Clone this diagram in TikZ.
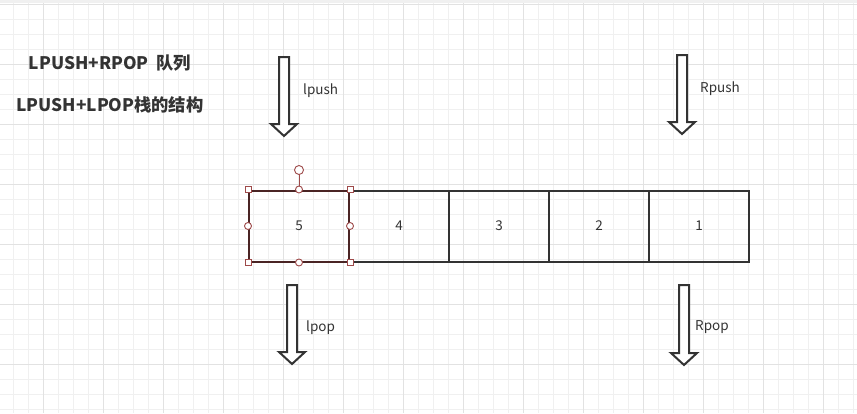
\documentclass[tikz,border=0pt]{standalone}
\usepackage{fontspec}
\setmainfont{Noto Sans CJK SC}
\begin{document}
\begin{tikzpicture}[x=1pt,y=-1pt,
  minorgrid/.style={draw=gridminor,line width=0.9pt},
  majorgrid/.style={draw=gridmajor,line width=0.9pt},
  cell/.style={draw=boxline,line width=2pt,minimum width=100pt,minimum height=71pt,inner sep=0pt,font=\fontsize{13.5}{16}\selectfont,text=txt},
  selcell/.style={cell,draw=selline},
  hsq/.style={draw=handle,fill=white,line width=0.9pt,minimum size=6pt,inner sep=0pt},
  hci/.style={draw=handle,fill=white,line width=0.9pt,circle,minimum size=7pt,inner sep=0pt},
  blockarrow/.style={draw=boxline,fill=white,line width=2pt,line join=miter},
  lbl/.style={font=\fontsize{13.5}{16}\selectfont,text=txt,inner sep=0pt,anchor=west},
  title/.style={font=\fontsize{17.3}{20}\selectfont\bfseries,text=txt,inner sep=0pt}]
\definecolor{gridminor}{HTML}{F0F0F0}
\definecolor{gridmajor}{HTML}{E2E2E2}
\definecolor{boxline}{HTML}{333333}
\definecolor{selline}{HTML}{4A2424}
\definecolor{handle}{HTML}{9E4A4A}
\definecolor{txt}{HTML}{333333}
\useasboundingbox (0,0) rectangle (857,413);
\fill[white] (0,0) rectangle (857,413);
% grid
\foreach \k in {0,...,56} {\draw[minorgrid] (13+15*\k,0) -- (13+15*\k,413);}
\foreach \k in {0,...,27} {\draw[minorgrid] (0,4+15*\k) -- (857,4+15*\k);}
\foreach \k in {0,...,13} {\draw[majorgrid] (43+60*\k,0) -- (43+60*\k,413);}
\foreach \k in {0,...,6} {\draw[majorgrid] (0,4+60*\k) -- (857,4+60*\k);}
\fill[gridminor] (0,0) rectangle (857,3);
% titles
\node[title] (t1) at (110,63) {LPUSH+RPOP\ \ 队列};
\node[title] (t2) at (110,105) {LPUSH+LPOP栈的结构};
% cells
\node[cell] (b4) at (399,226) {4};
\node[cell] (b3) at (499,226) {3};
\node[cell] (b2) at (599,226) {2};
\node[cell] (b1) at (699,226) {1};
\node[selcell] (b5) at (299,226) {5};
% selection handles
\coordinate (rot) at (299,170);
\draw[draw=handle,line width=0.9pt] (rot) -- (b5.north);
\node[hci,minimum size=9pt] (hr) at (rot) {};
\foreach \a in {north west,north east,south west,south east} {\node[hsq] at (b5.\a) {};}
\foreach \a in {north,south,east,west} {\node[hci] at (b5.\a) {};}
% block arrows
\draw[blockarrow] (279,57) -- (289,57) -- (289,124) -- (297,124) -- (284,136) -- (271,124) -- (279,124) -- cycle;
\draw[blockarrow] (677,55) -- (687,55) -- (687,122) -- (695,122) -- (682,134) -- (669,122) -- (677,122) -- cycle;
\draw[blockarrow] (287,285) -- (297,285) -- (297,352) -- (305,352) -- (292,364) -- (279,352) -- (287,352) -- cycle;
\draw[blockarrow] (679,285) -- (689,285) -- (689,353) -- (697,353) -- (684,365) -- (671,353) -- (679,353) -- cycle;
% labels
\node[lbl] (l1) at (303,91) {lpush};
\node[lbl] (l2) at (700,89) {Rpush};
\node[lbl] (l3) at (306,328) {lpop};
\node[lbl] (l4) at (695,327) {Rpop};
\end{tikzpicture}
\end{document}
